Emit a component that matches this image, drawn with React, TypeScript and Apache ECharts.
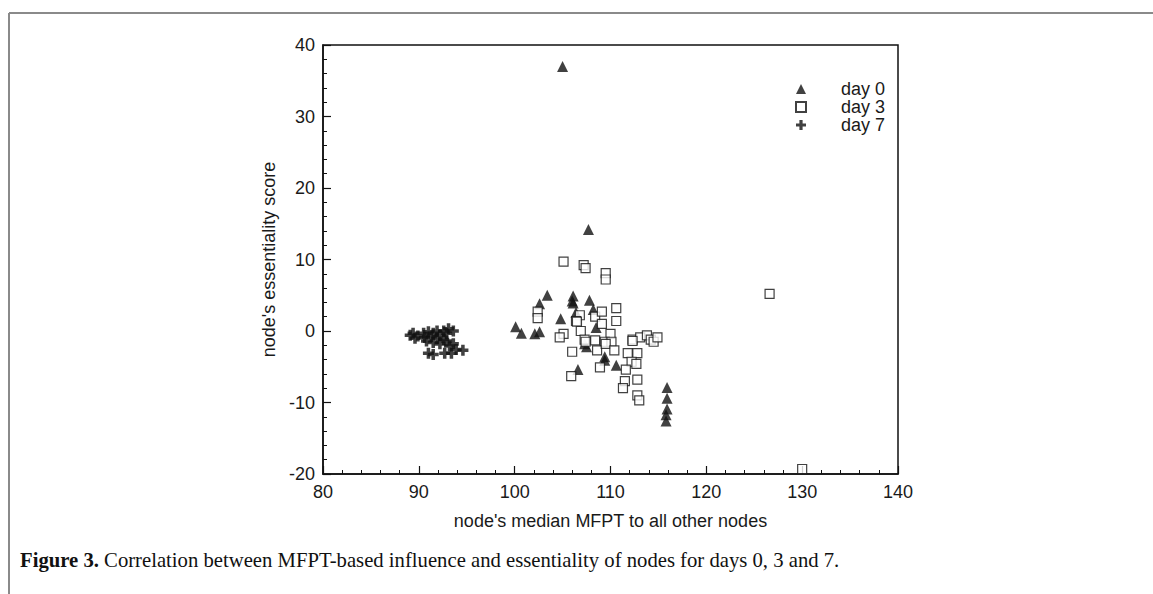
import React, { useEffect, useRef } from "react";
import * as echarts from "echarts";

const day0: number[][] = [
  [105.0, 37.0], [107.7, 14.2], [103.4, 5.0], [102.6, 3.8], [106.1, 4.9], [106.0, 4.2],
  [106.1, 3.9], [107.8, 4.3], [104.8, 1.7], [100.1, 0.6], [100.7, -0.3], [102.1, -0.4],
  [102.6, -0.1], [106.4, 2.6], [108.2, 3.0], [107.5, -2.2], [107.3, -1.8], [109.4, -3.6],
  [109.4, -4.1], [110.6, -4.8], [106.6, -5.4], [108.5, 0.5], [115.9, -7.9], [115.9, -9.4],
  [115.9, -10.9], [115.8, -11.7], [115.8, -12.6],
];

const day3: number[][] = [
  [105.1, 9.7], [107.2, 9.2], [107.4, 8.8], [109.5, 8.1], [109.5, 7.2], [102.4, 2.7],
  [102.4, 1.8], [110.6, 3.2], [110.6, 1.4], [106.8, 2.2], [106.4, 1.4], [108.4, 2.0],
  [109.1, 2.7], [109.1, 1.0], [105.1, -0.4], [104.7, -0.9], [106.9, 0.0], [110.0, -0.4],
  [107.3, -1.2], [108.4, -1.3], [109.4, -1.5], [110.1, -1.5], [112.3, -1.2], [113.1, -0.9],
  [113.8, -0.6], [114.2, -1.2], [114.5, -1.5], [114.9, -0.9], [106.0, -2.9], [105.9, -6.3],
  [106.5, 1.3], [107.4, -1.5], [108.6, -2.7], [109.5, -1.8], [110.4, -2.7], [108.9, -5.1],
  [111.8, -3.1], [112.8, -3.1], [112.2, -4.3], [112.7, -4.6], [111.6, -5.4], [111.5, -7.0],
  [111.3, -8.0], [112.8, -6.8], [112.8, -9.0], [113.0, -9.7], [112.3, -1.4], [126.6, 5.2],
  [130.0, -19.3],
];

const day7: number[][] = [
  [89.1, -0.6], [89.6, -1.0], [89.4, -0.3], [90.5, -0.3], [91.0, -0.1], [91.3, -0.8],
  [91.5, -0.3], [91.9, 0.0], [92.2, -0.6], [92.6, 0.0], [93.1, 0.3], [93.6, 0.0],
  [92.9, -0.3], [90.8, -1.4], [91.5, -1.6], [92.6, -1.2], [91.0, -3.1], [91.5, -3.3],
  [92.7, -3.1], [93.4, -3.1], [93.9, -2.6], [94.6, -2.7], [92.2, -1.8], [93.2, -2.1],
  [91.9, -1.0], [92.9, -1.4], [93.6, -1.8], [90.6, -0.9], [89.9, -0.7],
];

const seriesNames = ["day 0", "day 3", "day 7"];
const xTitle = "node's median MFPT to all other nodes";
const yTitle = "node's essentiality score";
const captionBold = "Figure 3.";
const captionText = " Correlation between MFPT-based influence and essentiality of nodes for days 0, 3 and 7.";

const PLUS = "path://M3.4,0H6.6V3.4H10V6.6H6.6V10H3.4V6.6H0V3.4H3.4Z";
const FONT = "Liberation Sans";

export default function App() {
  const ref = useRef<HTMLDivElement>(null);
  useEffect(() => {
    if (!ref.current) return;
    const chart = echarts.init(ref.current, undefined, { renderer: "svg" });
    const axisCommon = {
      axisLine: { show: true, onZero: false, lineStyle: { color: "#111", width: 1.5 } },
      axisTick: { show: true, inside: true, length: 8, lineStyle: { color: "#111", width: 1.2 } },
      minorTick: { show: true, splitNumber: 5, length: 4, lineStyle: { color: "#111", width: 1 } },
      splitLine: { show: false },
      nameTextStyle: { fontFamily: FONT, fontSize: 18, color: "#1a1a1a" },
    };
    chart.setOption({
      animation: false,
      backgroundColor: "#fff",
      grid: {
        left: 323, top: 45, width: 575, height: 429,
        show: true, borderColor: "#111", borderWidth: 1.5, backgroundColor: "transparent",
      },
      xAxis: {
        type: "value", min: 80, max: 140, interval: 10,
        name: xTitle, nameLocation: "middle", nameGap: 38,
        axisLabel: { fontFamily: FONT, fontSize: 18, color: "#1a1a1a", margin: 9 },
        ...axisCommon,
      },
      yAxis: {
        type: "value", min: -20, max: 40, interval: 10,
        name: yTitle, nameLocation: "middle", nameGap: 45,
        axisLabel: { fontFamily: FONT, fontSize: 18, color: "#1a1a1a", margin: 8 },
        ...axisCommon,
      },
      legend: {
        orient: "vertical", left: 790, top: 75, itemGap: 0, itemWidth: 10, itemHeight: 10,
        data: seriesNames,
        textStyle: { fontFamily: FONT, fontSize: 18, color: "#1a1a1a", padding: [0, 0, 0, 30] },
      },
      graphic: [
        { type: "line", shape: { x1: 9, y1: 13, x2: 1153, y2: 13 }, style: { stroke: "#8a8a8a", lineWidth: 2 } },
        { type: "line", shape: { x1: 9, y1: 13, x2: 9, y2: 594 }, style: { stroke: "#8a8a8a", lineWidth: 2 } },
        {
          type: "text", left: 20, top: 549,
          style: {
            text: `{b|${captionBold}}{n|${captionText}}`,
            rich: {
              b: { fontFamily: "Liberation Serif", fontSize: 20.7, fontWeight: "bold", fill: "#111" },
              n: { fontFamily: "Liberation Serif", fontSize: 20.7, fill: "#111" },
            },
          },
        },
      ],
      series: [
        {
          name: seriesNames[0], type: "scatter", data: day0, symbol: "triangle", symbolSize: 11,
          itemStyle: { color: "#111" },
        },
        {
          name: seriesNames[1], type: "scatter", data: day3, symbol: "rect", symbolSize: 9,
          itemStyle: { color: "#fff", borderColor: "#111", borderWidth: 1.2 },
        },
        {
          name: seriesNames[2], type: "scatter", data: day7, symbol: PLUS, symbolSize: 11,
          itemStyle: { color: "#111" },
        },
      ],
    });
    return () => chart.dispose();
  }, []);
  return <div ref={ref} style={{ position: "fixed", left: 0, top: 0, width: 1153, height: 594 }} />;
}
